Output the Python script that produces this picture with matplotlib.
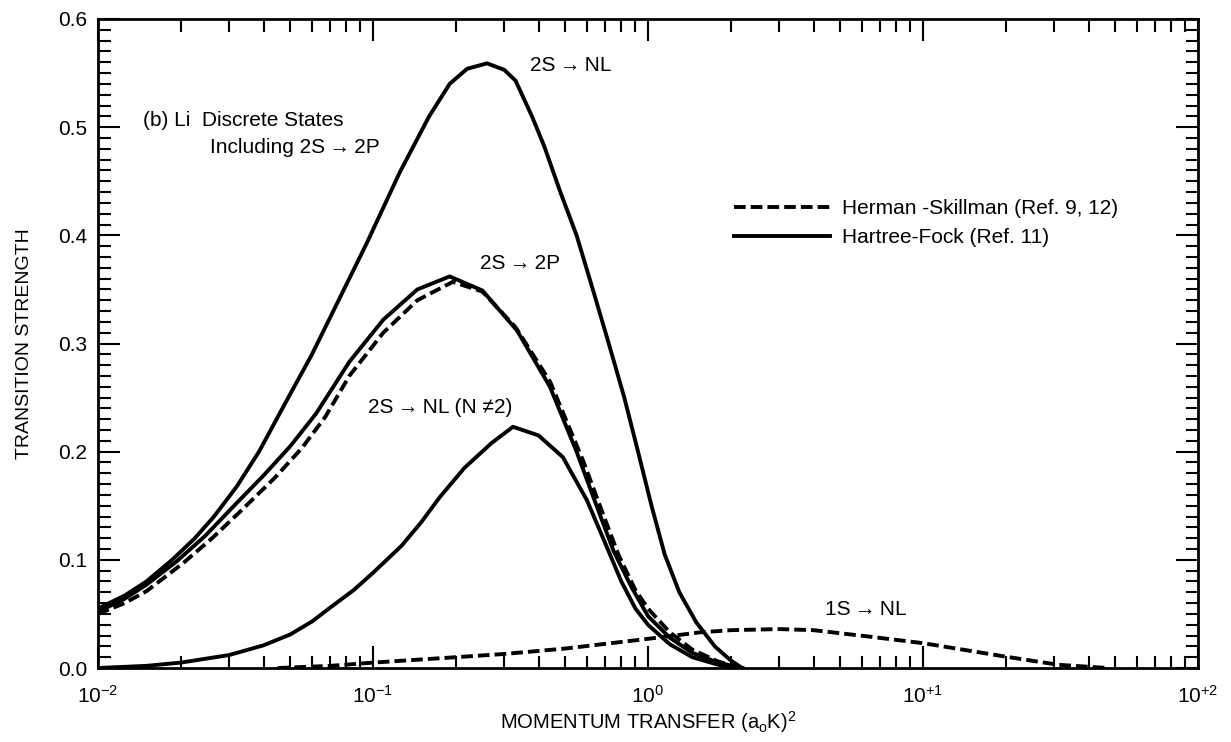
import matplotlib
matplotlib.use("Agg")
import matplotlib.pyplot as plt
from matplotlib.ticker import FixedLocator, LogLocator, MultipleLocator, NullFormatter

plt.rcParams['font.family'] = ['Liberation Sans', 'DejaVu Sans']
plt.rcParams['mathtext.fontset'] = 'custom'
plt.rcParams['mathtext.rm'] = 'Liberation Sans'
plt.rcParams['mathtext.it'] = 'Liberation Sans'

# ---- data ----
# 2S -> NL (Hartree-Fock, all final states)
x_2s_nl = [0.01, 0.0125, 0.015, 0.0186, 0.0225, 0.0264, 0.032, 0.0385, 0.048, 0.06,
           0.075, 0.095, 0.125, 0.16, 0.19, 0.22, 0.26, 0.30, 0.33, 0.38, 0.42,
           0.48, 0.55, 0.63, 0.72, 0.82, 0.92, 1.03, 1.15, 1.3, 1.5, 1.75, 2.0, 2.2]
y_2s_nl = [0.055, 0.067, 0.080, 0.100, 0.120, 0.140, 0.168, 0.200, 0.245, 0.290,
           0.340, 0.393, 0.458, 0.510, 0.540, 0.554, 0.559, 0.553, 0.543, 0.509, 0.482,
           0.440, 0.400, 0.350, 0.300, 0.250, 0.200, 0.150, 0.105, 0.070, 0.042, 0.020, 0.007, 0.0]

# 2S -> 2P (Hartree-Fock)
x_2p_hf = [0.01, 0.0125, 0.015, 0.0192, 0.0245, 0.0307, 0.04, 0.05, 0.062, 0.082, 0.109,
           0.145, 0.19, 0.25, 0.334, 0.44, 0.55, 0.65, 0.75, 0.87, 1.0, 1.2, 1.45, 1.8, 2.2]
y_2p_hf = [0.052, 0.064, 0.077, 0.098, 0.122, 0.148, 0.178, 0.205, 0.235, 0.283, 0.322,
           0.350, 0.362, 0.349, 0.312, 0.260, 0.200, 0.150, 0.108, 0.075, 0.048, 0.028, 0.014, 0.005, 0.0]

# 2S -> 2P (Herman-Skillman)
x_2p_hs = [0.01, 0.0125, 0.015, 0.0204, 0.026, 0.033, 0.044, 0.055, 0.067, 0.082, 0.109,
           0.145, 0.195, 0.25, 0.33, 0.44, 0.58, 0.68, 0.78, 0.9, 1.0, 1.2, 1.45, 1.8, 2.2]
y_2p_hs = [0.050, 0.060, 0.071, 0.097, 0.120, 0.145, 0.176, 0.203, 0.232, 0.270, 0.310,
           0.340, 0.357, 0.348, 0.315, 0.265, 0.192, 0.145, 0.105, 0.072, 0.055, 0.033, 0.017, 0.006, 0.0]

# 2S -> NL (N != 2), Hartree-Fock
x_2s_n2 = [0.01, 0.015, 0.02, 0.03, 0.04, 0.05, 0.06, 0.07, 0.085, 0.1, 0.127, 0.15,
           0.175, 0.215, 0.27, 0.323, 0.4, 0.49, 0.6, 0.7, 0.8, 0.9, 1.0, 1.2, 1.45, 1.8, 2.2]
y_2s_n2 = [0.0, 0.002, 0.005, 0.012, 0.021, 0.031, 0.043, 0.056, 0.072, 0.088, 0.113, 0.135,
           0.158, 0.185, 0.208, 0.223, 0.215, 0.195, 0.155, 0.115, 0.080, 0.055, 0.040, 0.022, 0.010, 0.003, 0.0]

# 1S -> NL (Herman-Skillman)
x_1s_nl = [0.045, 0.07, 0.1, 0.2, 0.3, 0.5, 1.0, 1.55, 2.0, 3.0, 4.0, 6.4, 10, 20, 31, 47]
y_1s_nl = [0.0, 0.002, 0.005, 0.010, 0.013, 0.018, 0.027, 0.033, 0.035, 0.036, 0.035,
           0.029, 0.023, 0.0105, 0.003, 0.0]

x_ticks = [1e-2, 1e-1, 1e0, 1e1, 1e2]
x_ticklabels = [r'$\mathrm{10^{-2}}$', r'$\mathrm{10^{-1}}$', r'$\mathrm{10^{0}}$',
                r'$\mathrm{10^{+1}}$', r'$\mathrm{10^{+2}}$']
y_ticks = [0.0, 0.1, 0.2, 0.3, 0.4, 0.5, 0.6]

# ---- figure ----
fig = plt.figure(figsize=(12.31, 7.42), dpi=100)
ax = fig.add_axes([0.0796, 0.0997, 0.8936, 0.8747])

lw = 2.8
dash = (3.0, 1.3)
ax.plot(x_2s_nl, y_2s_nl, color='black', lw=lw)
hf, = ax.plot(x_2p_hf, y_2p_hf, color='black', lw=lw, label='Hartree-Fock (Ref. 11)')
hs, = ax.plot(x_2p_hs, y_2p_hs, color='black', lw=lw, dashes=dash,
              label='Herman -Skillman (Ref. 9, 12)')
ax.plot(x_2s_n2, y_2s_n2, color='black', lw=lw)
ax.plot(x_1s_nl, y_1s_nl, color='black', lw=lw, dashes=dash)

ax.set_xscale('log')
ax.set_xlim(1e-2, 1e2)
ax.set_ylim(0, 0.6)

ax.xaxis.set_major_locator(FixedLocator(x_ticks))
ax.set_xticklabels(x_ticklabels)
ax.xaxis.set_minor_locator(LogLocator(base=10, subs=range(2, 10), numticks=20))
ax.xaxis.set_minor_formatter(NullFormatter())
ax.set_yticks(y_ticks)
ax.set_yticklabels([f'{v:.1f}' for v in y_ticks])
ax.yaxis.set_minor_locator(MultipleLocator(0.01))

for s in ax.spines.values():
    s.set_linewidth(2.0)
ax.tick_params(which='both', direction='in', top=True, right=True, width=1.5,
               labelsize=15)
ax.tick_params(which='major', length=16)
ax.tick_params(which='minor', length=9)
ax.tick_params(axis='y', which='major', pad=8)
ax.tick_params(axis='x', which='major', pad=12)

ax.set_xlabel(r'MOMENTUM TRANSFER (a$_\mathrm{o}$K)$^\mathrm{2}$', fontsize=14.5, labelpad=2)
ax.set_ylabel('TRANSITION STRENGTH', fontsize=14, labelpad=18)

# curve labels
fs = 15
arr = '\u2009\u2192\u2009'
ax.text(0.0146, 0.506, '(b) Li  Discrete States', fontsize=fs, va='center')
ax.text(0.0255, 0.481, 'Including 2S' + arr + '2P', fontsize=fs, va='center')
ax.text(0.372, 0.557, '2S' + arr + 'NL', fontsize=fs, va='center')
ax.text(0.245, 0.374, '2S' + arr + '2P', fontsize=fs, va='center')
ax.text(0.096, 0.241, '2S' + arr + 'NL (N \u22602)', fontsize=fs, va='center')
ax.text(4.4, 0.054, '1S' + arr + 'NL', fontsize=fs, va='center')

ax.legend(handles=[hs, hf], loc='upper left', bbox_to_anchor=(0.578, 0.722),
          frameon=False, fontsize=fs, handlelength=4.6, handletextpad=0.6,
          borderaxespad=0, borderpad=0, labelspacing=0.45)

fig.savefig('out.png', dpi=100)
